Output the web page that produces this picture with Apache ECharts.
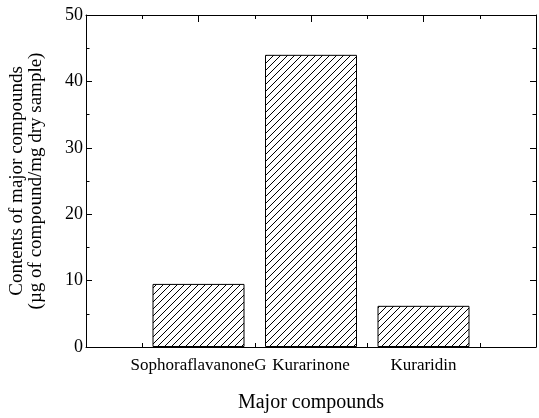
<!DOCTYPE html>
<html>
<head>
<meta charset="utf-8">
<script src="https://cdn.jsdelivr.net/npm/echarts@6/dist/echarts.min.js"></script>
<style>
html,body{margin:0;padding:0;background:#fff;}
#c{width:539px;height:418px;}
</style>
</head>
<body>
<div id="c"></div>
<script>
// ---- data ----
const categories = ['SophoraflavanoneG', 'Kurarinone', 'Kuraridin'];
const positions = [2, 4, 6];
const values = [9.5, 44.0, 6.2];
const yMin = 0, yMax = 50, yInterval = 10;
const xMin = 0, xMax = 8, xInterval = 2;

// ---- hatch pattern ----
const pc = document.createElement('canvas');
pc.width = 7; pc.height = 7;
const g = pc.getContext('2d');
g.fillStyle = '#fff';
g.fillRect(0, 0, 7, 7);
g.strokeStyle = '#000';
g.lineWidth = 1;
[0, 7, 14].forEach(function (k) {
  g.beginPath();
  g.moveTo(k + 1, -1);
  g.lineTo(k - 8, 8);
  g.stroke();
});

const font = '"Liberation Serif", "Times New Roman", serif';
const chart = echarts.init(document.getElementById('c'));

function xAxisDef(pos, showLabel) {
  return {
    type: 'value', position: pos, min: xMin, max: xMax, interval: xInterval,
    axisLine: { show: true, onZero: false, lineStyle: { color: '#000', width: 1 } },
    axisTick: { show: true, inside: true, length: 7, lineStyle: { color: '#000', width: 1 } },
    minorTick: { show: true, splitNumber: 2, length: 4, lineStyle: { color: '#000', width: 1 } },
    splitLine: { show: false }, minorSplitLine: { show: false },
    axisLabel: {
      show: showLabel, margin: 10, color: '#000', fontFamily: font, fontSize: 17,
      formatter: function (v) {
        const i = positions.indexOf(v);
        return i >= 0 ? categories[i] : '';
      }
    },
    name: showLabel ? 'Major compounds' : '',
    nameLocation: 'middle', nameGap: 46,
    nameTextStyle: { color: '#000', fontFamily: font, fontSize: 20 }
  };
}
function yAxisDef(pos, showLabel) {
  return {
    type: 'value', position: pos, min: yMin, max: yMax, interval: yInterval,
    axisLine: { show: true, onZero: false, lineStyle: { color: '#000', width: 1 } },
    axisTick: { show: true, inside: true, length: 6, lineStyle: { color: '#000', width: 1 } },
    minorTick: { show: true, splitNumber: 2, length: 3.5, lineStyle: { color: '#000', width: 1 } },
    splitLine: { show: false }, minorSplitLine: { show: false },
    axisLabel: { show: showLabel, margin: 3, color: '#000', fontFamily: font, fontSize: 18 },
    name: showLabel ? 'Contents of major compounds\n(µg of compound/mg dry sample)' : '',
    nameLocation: 'middle', nameGap: 40, nameRotate: 90,
    nameTextStyle: { color: '#000', fontFamily: font, fontSize: 19, lineHeight: 19 }
  };
}

chart.setOption({
  animation: false,
  backgroundColor: '#fff',
  textStyle: { fontFamily: font, color: '#000' },
  grid: { left: 84, right: 1, top: 15, bottom: 69 },
  xAxis: [xAxisDef('bottom', true), xAxisDef('top', false)],
  yAxis: [yAxisDef('left', true), yAxisDef('right', false)],
  series: [{
    type: 'bar',
    xAxisIndex: 0, yAxisIndex: 0,
    barWidth: 92,
    data: positions.map(function (p, i) { return [p, values[i]]; }),
    itemStyle: {
      color: { image: pc, repeat: 'repeat' },
      borderColor: '#000', borderWidth: 1
    }
  }]
});
</script>
</body>
</html>
